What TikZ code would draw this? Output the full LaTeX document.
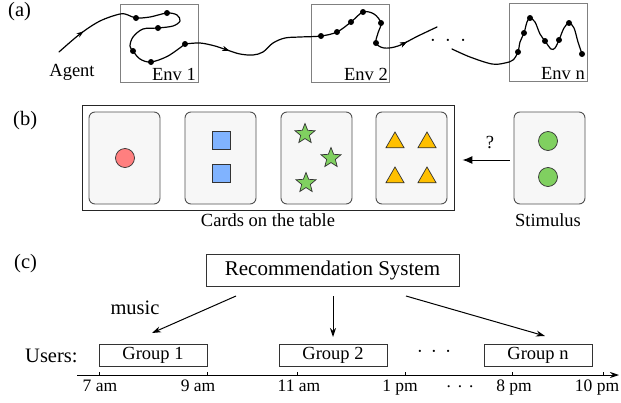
\documentclass[tikz,border=0pt]{standalone}
\usepackage{fontspec}
\setmainfont{Liberation Serif}
\usetikzlibrary{arrows.meta,shapes.geometric,decorations.markings}
\definecolor{cardfill}{HTML}{F7F7F7}
\definecolor{cardedge}{HTML}{505050}
\definecolor{envedge}{HTML}{808080}
\definecolor{redf}{HTML}{FF7F7F}
\definecolor{bluef}{HTML}{80B3FF}
\definecolor{greenf}{HTML}{80D060}
\definecolor{goldf}{HTML}{FFC000}
\tikzset{
  txt/.style={font=\fontsize{18.5}{22}\selectfont, inner sep=0pt},
  bigtxt/.style={font=\fontsize{20.5}{24}\selectfont, inner sep=0pt},
  timetxt/.style={font=\fontsize{17.5}{20}\selectfont, inner sep=0pt},
  envbox/.style={draw=envedge, line width=0.9pt, minimum width=78pt, minimum height=78pt, inner sep=0pt},
  card/.style={draw=cardedge, fill=cardfill, line width=0.9pt, rounded corners=6pt, minimum width=71pt, minimum height=92pt, inner sep=0pt},
  traj/.style={line width=1.2pt, line cap=round},
  tdot/.style={circle, fill=black, inner sep=0pt, minimum size=6pt},
  midarrow/.style={postaction={decorate}, decoration={markings, mark=at position #1 with {\arrow{Stealth[length=7pt,width=5pt]}}}},
  sym/.style={draw=black!80, line width=0.7pt, inner sep=0pt},
  gbox/.style={draw=black!80, line width=0.9pt, minimum width=108pt, minimum height=22pt, inner sep=0pt, font=\fontsize{18.5}{22}\selectfont},
  arr/.style={line width=1pt, -{Stealth[length=9pt,width=6pt]}},
}
\begin{document}
\begin{tikzpicture}[x=1pt,y=-1pt]
\useasboundingbox (0,0) rectangle (621,402);
% ---------- (a)
\node[bigtxt, anchor=base west] (la) at (8,16) {(a)};
\node[envbox] (e1) at (159,43) {};
\node[envbox] (e2) at (350.5,43) {};
\node[envbox] (en) at (548,42) {};
\node[txt, anchor=base east] (e1t) at (196,80) {Env 1};
\node[txt, anchor=base east] (e2t) at (388,80) {Env 2};
\node[txt, anchor=base east] (ent) at (585,79) {Env n};
\node[txt, anchor=base] (agent) at (72,76) {Agent};
\draw[traj, midarrow=0.12] plot[smooth, tension=0.55] coordinates {(59,52) (80,34) (100,21) (120,14) (128,15) (136,18) (150,17) (167,13) (177,15) (180,21) (173,26) (158,28) (143,29) (133,37) (130,46) (133,51) (140,59) (151,62) (168,56) (185,44)};
\draw[traj, midarrow=0.15, midarrow=0.89] plot[smooth, tension=0.55] coordinates {(185,44) (200,43) (215,46) (227,50) (240,54) (253,55) (263,52) (273,43) (285,38) (300,37) (321,36) (337,32) (351,22) (363,12) (374,14) (381,23) (378,33) (376,43) (384,48) (398,46) (418,36) (437,27)};
\draw[traj] plot[smooth, tension=0.55] coordinates {(452,49) (470,57) (492,64) (505,63) (513,60) (518,52) (520,42) (524,33) (527,22) (530,18) (535,22) (540,34) (545,41) (551,49) (555,48) (559,40) (564,28) (569,23) (574,28) (578,42) (582,54)};
\foreach \p in {(136,18),(167,13),(158,28),(133,51),(151,62),(185,44),
                (321,36),(337,32),(351,22),(363,12),(381,23),(376,43),
                (518,52),(524,33),(530,18),(545,41),(559,40),(569,23),(582,54)}
  \node[tdot] at \p {};
\node[txt, anchor=base] (adots) at (448,46) {·\hspace{9pt}·\hspace{9pt}·};
% ---------- (b)
\node[bigtxt, anchor=base west] (lb) at (13,125) {(b)};
\node[draw=black!85, line width=0.9pt, minimum width=372pt, minimum height=105pt, inner sep=0pt] (table) at (268,157.5) {};
\node[card] (c1) at (124.5,158) {};
\node[card] (c2) at (220.5,158) {};
\node[card] (c3) at (316.5,158) {};
\node[card] (c4) at (411.5,158) {};
\node[card] (stim) at (549.5,158) {};
\node[sym, circle, fill=redf, minimum size=19pt] (r1) at (125,158) {};
\node[sym, rectangle, fill=bluef, minimum size=18pt] (b1) at (221,140) {};
\node[sym, rectangle, fill=bluef, minimum size=18pt] (b2) at (221,173.5) {};
\foreach \p/\n in {(305,134)/s1,(331,158)/s2,(306,183)/s3}
  \node[sym, star, star points=5, star point ratio=2.3, minimum size=21pt, fill=greenf] (\n) at \p {};
\foreach \p/\n in {(395,142.5)/t1,(427,142.5)/t2,(395,177.5)/t3,(427,177.5)/t4}
  \node[sym, regular polygon, regular polygon sides=3, minimum size=21pt, fill=goldf] (\n) at \p {};
\node[sym, circle, fill=greenf, minimum size=19pt] (g1) at (548,141) {};
\node[sym, circle, fill=greenf, minimum size=19pt] (g2) at (548,177) {};
\draw[line width=1pt, -{Latex[length=10pt,width=8pt]}, shorten <=4pt, shorten >=8pt] ([yshift=-2pt]stim.west) -- ([yshift=-2.5pt]table.east);
\node[txt, anchor=base] (q) at (490,148) {?};
\node[txt, anchor=base] (ctab) at (268,226) {Cards on the table};
\node[txt, anchor=base] (stimt) at (548,226) {Stimulus};
% ---------- (c)
\node[bigtxt, anchor=base west] (lc) at (14,268) {(c)};
\node[draw=black!80, line width=0.9pt, minimum width=253pt, minimum height=32pt, inner sep=0pt, font=\fontsize{21}{24}\selectfont] (rec) at (332.5,270) {Recommendation System};
\node[gbox] (gr1) at (153,355) {Group 1};
\node[gbox] (gr2) at (333,355) {Group 2};
\node[gbox] (grn) at (538,355) {Group n};
\node[bigtxt, anchor=base west] (users) at (25,362) {Users:};
\node[bigtxt, anchor=base] (music) at (135,314) {music};
\node[txt, anchor=base] (udots) at (434,357) {·\hspace{8pt}·\hspace{8pt}·};
\coordinate (a1s) at (236,296); \coordinate (a1e) at (152,333);
\coordinate (a2s) at (333,296); \coordinate (a2e) at (333,337);
\coordinate (a3s) at (406,296); \coordinate (a3e) at (545,336);
\draw[arr] (a1s) -- (a1e);
\draw[arr] (a2s) -- (a2e);
\draw[arr] (a3s) -- (a3e);
\coordinate (tl0) at (77,375); \coordinate (tl1) at (619,375);
\draw[line width=0.9pt, -{Stealth[length=9pt,width=6pt]}] (tl0) -- (tl1);
\foreach \x in {99,207,297,405,512,603} \draw[line width=0.7pt] (\x,375) -- (\x,372);
\node[timetxt, anchor=base] (t7) at (100,391) {7 am};
\node[timetxt, anchor=base] (t9) at (198,391) {9 am};
\node[timetxt, anchor=base] (t11) at (299,391) {11 am};
\node[timetxt, anchor=base] (t1) at (400,391) {1 pm};
\node[timetxt, anchor=base] (tdots) at (460,392) {·\hspace{5.5pt}·\hspace{5.5pt}·};
\node[timetxt, anchor=base] (t8) at (514,391) {8 pm};
\node[timetxt, anchor=base] (t10) at (597,391) {10 pm};
\end{tikzpicture}
\end{document}
